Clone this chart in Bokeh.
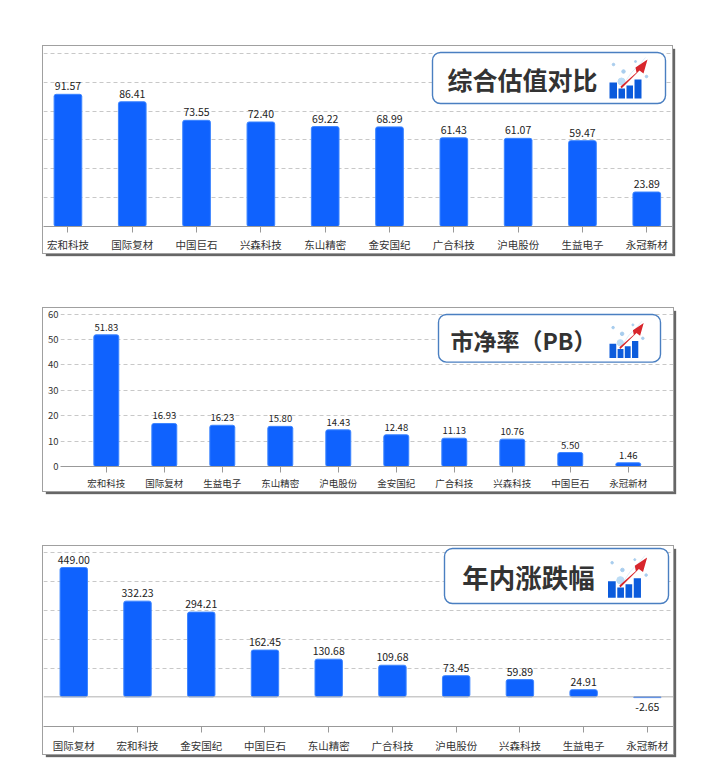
from bokeh.plotting import figure
from bokeh.layouts import column
from bokeh.models import Range1d, FixedTicker, Span, ColumnDataSource, CDSView, IndexFilter
from bokeh.core.properties import value
from bokeh.embed import file_html
from bokeh.resources import INLINE

cats_a = ["宏和科技", "国际复材", "中国巨石", "兴森科技", "东山精密", "金安国纪", "广合科技", "沪电股份", "生益电子", "永冠新材"]
vals_a = [91.57, 86.41, 73.55, 72.40, 69.22, 68.99, 61.43, 61.07, 59.47, 23.89]
cats_b = ["宏和科技", "国际复材", "生益电子", "东山精密", "沪电股份", "金安国纪", "广合科技", "兴森科技", "中国巨石", "永冠新材"]
vals_b = [51.83, 16.93, 16.23, 15.80, 14.43, 12.48, 11.13, 10.76, 5.50, 1.46]
cats_c = ["国际复材", "宏和科技", "金安国纪", "中国巨石", "东山精密", "广合科技", "沪电股份", "兴森科技", "生益电子", "永冠新材"]
vals_c = [449.00, 332.23, 294.21, 162.45, 130.68, 109.68, 73.45, 59.89, 24.91, -2.65]
title_a, title_b, title_c = "综合估值对比", "市净率（PB）", "年内涨跌幅"

FONT = "Noto Sans CJK SC"
AXIS_FONT = "'Liberation Sans', 'Noto Sans CJK SC'"
BLUE = "#0f62fe"


def panel(cats, vals, title, box, title_xy, title_size, icon, xr, yr, yticks, page_left, page_top,
          w, h, frame_left, frame_bottom, font_px, show_y, standoff, margin):
    p = figure(width=w, height=h, output_backend="svg", toolbar_location=None,
               x_range=Range1d(*xr), y_range=Range1d(*yr), margin=margin, frame_align=False,
               y_axis_location="left" if show_y else None,
               min_border_left=frame_left - page_left, min_border_right=0, min_border_top=0,
               min_border_bottom=0, outline_line_color=None, background_fill_color="white")
    p.styles = {"box-shadow": "3px 3px 1px #666666", "outline": "1px solid #a0a0a0"}
    # page-pixel overlay scale for the title badge
    p.extra_x_ranges["px"] = Range1d(frame_left, page_left + w)
    p.extra_y_ranges["px"] = Range1d(frame_bottom, page_top)
    px = dict(x_range_name="px", y_range_name="px")

    ax = p.xaxis[0]
    ax.ticker = FixedTicker(ticks=list(range(len(cats))))
    ax.major_label_overrides = {i: c for i, c in enumerate(cats)}
    ax.major_label_text_font = AXIS_FONT
    ax.major_label_text_font_size = f"{font_px}px"
    ax.major_label_text_color = "#333333"
    ax.major_label_standoff = standoff
    ax.major_tick_in = 0
    ax.major_tick_out = 6
    ax.minor_tick_line_color = None
    ax.major_tick_line_color = "#999999"
    ax.axis_line_color = "#999999"

    if show_y:
        yax = p.yaxis[0]
        yax.ticker = FixedTicker(ticks=yticks)
        yax.major_tick_line_color = None
        yax.major_tick_in = 0
        yax.major_tick_out = 0
        yax.minor_tick_out = 0
        yax.minor_tick_line_color = None
        yax.axis_line_color = None
        yax.major_label_standoff = 2
        yax.major_label_text_font = FONT
        yax.major_label_text_font_size = f"{font_px}px"
        yax.major_label_text_line_height = 1.0
        yax.major_label_text_color = "#333333"

    p.xgrid.visible = False
    p.ygrid[0].ticker = FixedTicker(ticks=yticks)
    p.ygrid.grid_line_color = "#c8c8c8"
    p.ygrid.grid_line_dash = "4 3"

    if yr[0] < 0:
        p.add_layout(Span(location=0, dimension="width", line_color="#b0b0b0", line_width=1))

    xs = list(range(len(cats)))
    p.vbar(x=xs, top=vals, bottom=0, width=0.43, fill_color=BLUE, line_color="#3d85ff",
           line_width=1, border_radius=2)

    src = ColumnDataSource(dict(x=xs, y=vals, t=[f"{v:.2f}" for v in vals]))
    pos = [i for i, v in enumerate(vals) if v >= 0]
    neg = [i for i, v in enumerate(vals) if v < 0]
    p.text("x", "y", text="t", source=src, view=CDSView(filter=IndexFilter(pos)), text_align="center",
           text_baseline="bottom", y_offset=-4, text_font=value(FONT),
           text_font_size=f"{font_px}px", text_color="#222222")
    if neg:
        p.text("x", "y", text="t", source=src, view=CDSView(filter=IndexFilter(neg)), text_align="center",
               text_baseline="top", y_offset=5, text_font=value(FONT),
               text_font_size=f"{font_px}px", text_color="#222222")

    # title badge
    l, r, t, b = box
    p.quad(left=[l], right=[r], top=[t], bottom=[b], fill_color="white", line_color="#4a7fc1",
           line_width=1.4, border_radius=8, **px)
    p.text(x=[title_xy[0]], y=[title_xy[1]], text=[title], text_align="center", text_baseline="middle",
           text_font=value(FONT), text_font_style="bold", text_font_size=f"{title_size}px",
           text_color="#333333", **px)

    # icon, drawn on a 40-unit box at (ix, iy) scaled by s
    ix, iy, s = icon
    X = lambda vs: [ix + v * s for v in vs]
    Y = lambda vs: [iy + v * s for v in vs]
    p.line(X([11, 22, 30, 36]), Y([32, 16, 8, 1]), line_color="#dbe8f7", line_width=0.8, **px)
    p.scatter(X([4, 14, 37, 26]), Y([8, 15, 20, 5]), size=[2.5, 3.5, 2.5, 2], color="#a8cdee", **px)
    p.scatter(X([12]), Y([25]), size=7 * s, color="#bcdcf5", **px)
    p.quad(left=X([0, 9, 17, 25]), right=X([7.5, 15.5, 23.5, 32]),
           top=Y([26, 32, 29, 23]), bottom=Y([42] * 4), fill_color="#0b5bdc", line_color=None, **px)
    p.patch(X([11, 27, 26, 38, 34, 30, 12]), Y([30, 16, 11, 3, 17, 14, 32]),
            fill_color="#d8262c", line_color=None, **px)
    return p


p1 = panel(cats_a, vals_a, title_a, (432, 665, 52, 103), (522, 78), 25, (609, 56, 1.0),
           (-0.38, 9.40), (0, 124.7), [20, 40, 60, 80, 100, 120], 43, 46, 629, 207, 43, 226, 10.5, False, 6,
           (46, 0, 0, 43))
p2 = panel(cats_b, vals_b, title_b, (438, 660, 314, 362), (523, 340), 23, (609, 320, 0.9),
           (-0.79, 9.78), (0, 62.2), [0, 10, 20, 30, 40, 50, 60], 43, 308, 630, 183, 60, 467, 9.5, True, 5,
           (55, 0, 0, 43))
p3 = panel(cats_c, vals_c, title_c, (444, 668, 548, 603), (528, 576), 26.5, (607.5, 554, 1.03),
           (-0.475, 9.41), (-103, 522), [100, 200, 300, 400, 500], 43, 546, 630, 208, 43, 726, 10.5, False, 7,
           (55, 0, 0, 43))

page = column(p1, p2, p3, spacing=0)
open("out.html", "w").write(file_html(page, INLINE))
